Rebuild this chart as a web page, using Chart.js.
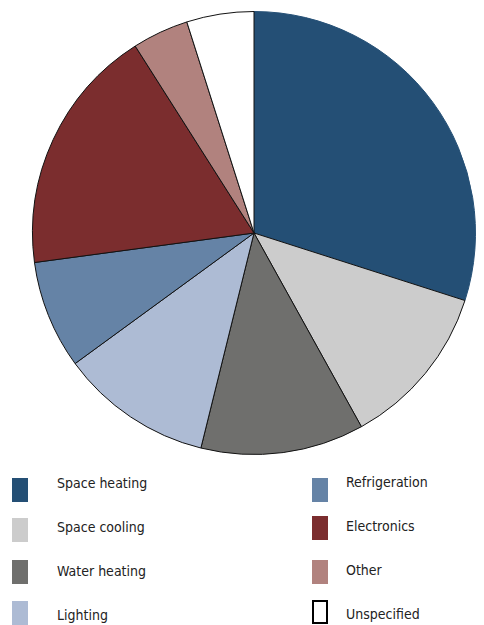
<!DOCTYPE html>
<html>
<head>
<meta charset="utf-8">
<script src="https://cdn.jsdelivr.net/npm/chart.js@4"></script>
<style>
    body { margin: 0; background: #fff; width: 484px; height: 625px; overflow: hidden; position: relative; }
    #wrap { position: absolute; left: 0; top: 0; width: 484px; height: 466px; }
    .item { position: absolute; font-family: "Liberation Sans Narrow", "DejaVu Sans Condensed", sans-serif; font-size: 14px; line-height: 18px; color: #222; }
    .box { position: absolute; width: 16px; height: 24px; box-sizing: border-box; }
</style>
</head>
<body>
<div id="wrap"><canvas id="pieChart"></canvas></div>
<div id="legend"></div>
<script>
// Share of energy use by end use (%)
const categories = ['Space heating', 'Space cooling', 'Water heating', 'Lighting', 'Refrigeration', 'Electronics', 'Other', 'Unspecified'];
const shares = [29.9, 12.0, 11.9, 11.1, 7.9, 18.1, 4.1, 4.9];
const colors = ['#244f75', '#cccccc', '#6f6f6d', '#adbbd4', '#6583a6', '#7b2d2e', '#b1827e', '#ffffff'];
const borders = ['#244f75', '#111', '#111', '#111', '#111', '#111', '#111', '#111'];

const ctx = document.getElementById('pieChart').getContext('2d');
new Chart(ctx, {
    type: 'pie',
    data: {
        labels: categories,
        datasets: [{
            data: shares,
            backgroundColor: colors,
            borderColor: borders,
            borderWidth: 1
        }]
    },
    options: {
        responsive: true,
        maintainAspectRatio: false,
        animation: false,
        layout: { padding: { left: 24, top: 11, bottom: 11, right: 0 } },
        plugins: {
            legend: { display: false },
            tooltip: { enabled: false }
        }
    }
});

// Legend in two columns, built from the same arrays
const legend = document.getElementById('legend');
const boxY = [[478, 518, 560, 601], [478, 516, 560, 600]];
const textY = [[483, 527, 571, 615], [482, 526, 570, 614]];
categories.forEach(function(name, i) {
    const col = i < 4 ? 0 : 1;
    const row = i % 4;
    const box = document.createElement('div');
    box.className = 'box';
    box.style.left = (col === 0 ? 12 : 312) + 'px';
    box.style.top = boxY[col][row] + 'px';
    box.style.background = colors[i];
    if (name === 'Unspecified') box.style.border = '2px solid #000';
    legend.appendChild(box);

    const label = document.createElement('div');
    label.className = 'item';
    label.textContent = name;
    label.style.left = (col === 0 ? 57 : 346) + 'px';
    label.style.top = (textY[col][row] - 9) + 'px';
    legend.appendChild(label);
});
</script>
</body>
</html>
